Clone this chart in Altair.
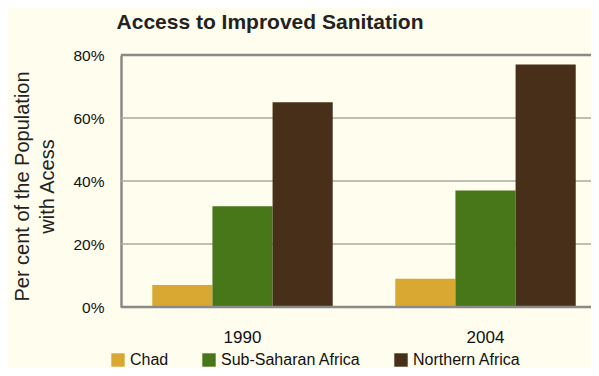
import altair as alt
import pandas as pd

years = ["1990", "2004"]
regions = ["Chad", "Sub-Saharan Africa", "Northern Africa"]
chad = [7, 9]
ssa = [32, 37]
north = [65, 77]
colors = ["#D8A833", "#48771A", "#472F19"]
y_ticks = [0, 20, 40, 60, 80]

rows = []
for i, y in enumerate(years):
    for r, vals in zip(regions, [chad, ssa, north]):
        rows.append({"year": y, "region": r, "value": vals[i]})
df = pd.DataFrame(rows)
grid_df = pd.DataFrame({"v": y_ticks[1:-1]})
frame_df = pd.DataFrame({"v": [y_ticks[0], y_ticks[-1]]})

frame_color = "#8A8A86"

grid = alt.Chart(grid_df).mark_rule(color="#A9A9A2", strokeWidth=1.5).encode(
    y=alt.Y("v:Q", scale=alt.Scale(domain=[0, 80], nice=False))
)

bars = alt.Chart(df).mark_bar().encode(
    x=alt.X("year:N", sort=years,
            scale=alt.Scale(paddingInner=0, paddingOuter=0, range=[0, 486]),
            axis=alt.Axis(title=None, labelAngle=0, ticks=False, domain=False,
                          labelPadding=22, labelFontSize=17, labelColor="#111",
                          labelFont="Liberation Sans")),
    xOffset=alt.XOffset("region:N", sort=regions,
                        scale=alt.Scale(paddingInner=0, paddingOuter=0.52)),
    y=alt.Y("value:Q",
            scale=alt.Scale(domain=[0, 80], nice=False),
            axis=alt.Axis(values=y_ticks, labelExpr="datum.value + '%'",
                          title=["Per cent of the Population", "with Acess"],
                          titleFontSize=20, titleFontWeight="normal",
                          titleFont="Liberation Sans", titleColor="#222",
                          titleLineHeight=25, titlePadding=15, titleY=131,
                          labelFontSize=15.5, labelColor="#111", labelFont="Liberation Sans",
                          ticks=False, domain=True, domainColor=frame_color, domainWidth=2.5,
                          labelPadding=17, grid=False)),
    color=alt.Color("region:N", sort=regions,
                    scale=alt.Scale(domain=regions, range=colors),
                    legend=alt.Legend(title=None, orient="none", direction="horizontal",
                                      legendX=-11, legendY=297,
                                      symbolType="square", symbolSize=180,
                                      symbolStrokeWidth=0, columnPadding=32,
                                      labelFontSize=16, labelFont="Liberation Sans",
                                      labelColor="#111", labelOffset=4)),
)

frame_lines = alt.Chart(frame_df).mark_rule(color=frame_color, strokeWidth=2.5).encode(
    y="v:Q"
)

chart = alt.layer(grid, bars, frame_lines).properties(
    width=470, height=252,
    title=alt.TitleParams("Access to Improved Sanitation", fontSize=21, fontWeight="bold",
                          font="Liberation Sans", color="#222", anchor="middle",
                          frame="group", dx=-86, offset=15),
    background="#FFFDEE",
    autosize=alt.AutoSizeParams(type="none"),
    padding={"left": 113, "top": 47, "right": 0, "bottom": 61},
).configure_view(
    stroke=None
)

chart.save("out.html", embed_options={"renderer": "svg", "actions": False})
